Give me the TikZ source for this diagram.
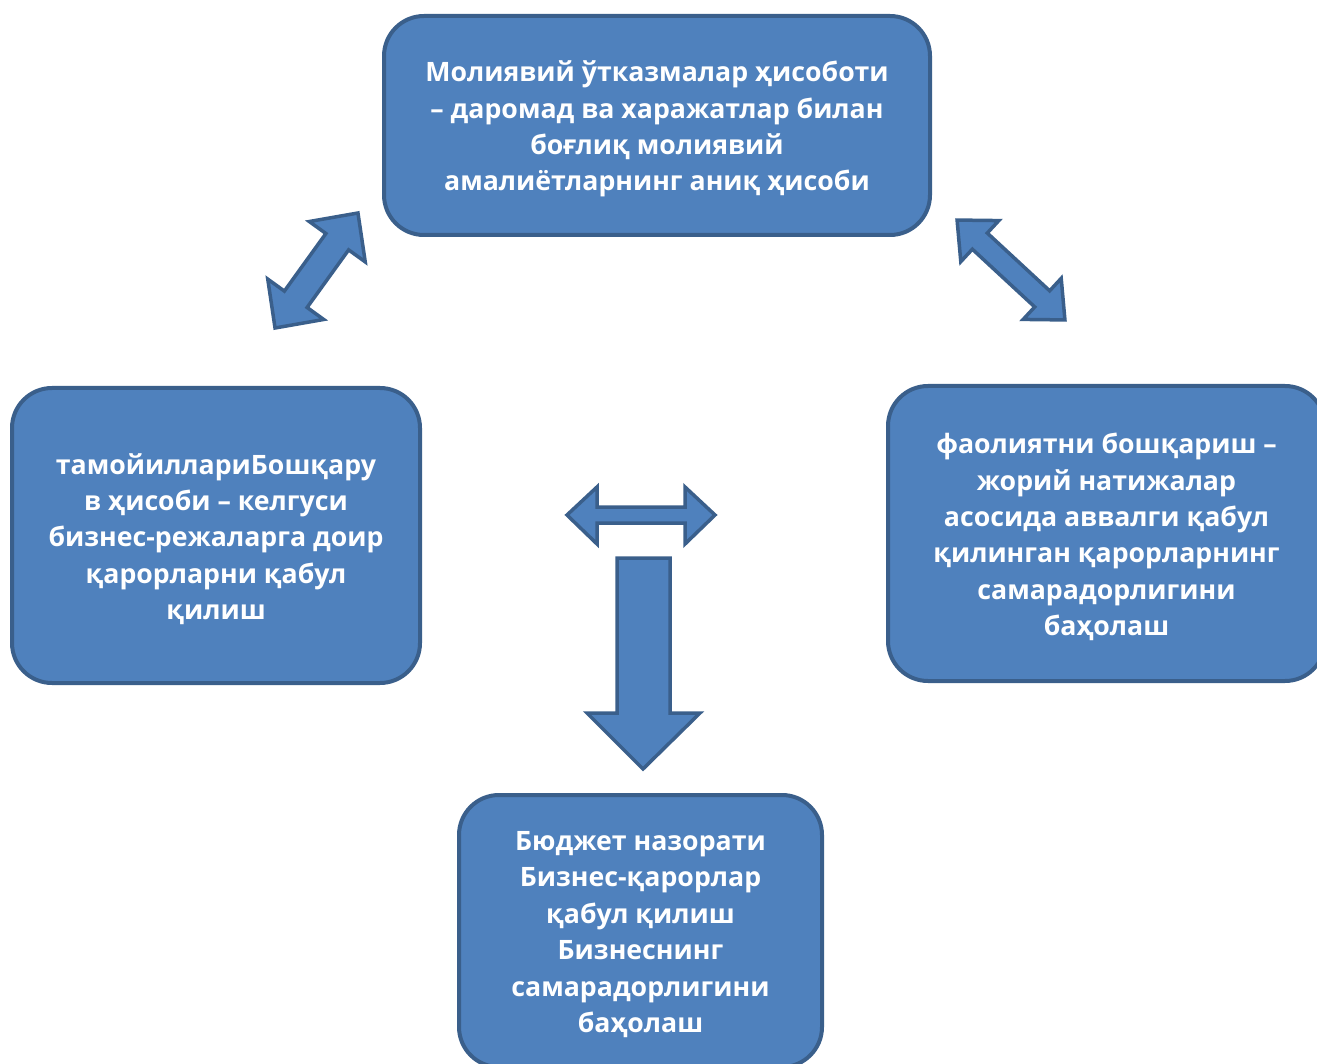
\documentclass[tikz,border=0pt]{standalone}
\usepackage{fontspec}
\setmainfont{Open Sans}
\definecolor{boxfill}{HTML}{4F81BD}
\definecolor{boxline}{HTML}{3A5F8B}
\begin{document}
\begin{tikzpicture}[x=1pt,y=-1pt,
  box/.style={draw=boxline,fill=boxfill,line width=4pt,rounded corners=40pt,inner sep=0pt},
  boxtext/.style={text=white,align=center,inner sep=0pt,yshift=-3.5pt,
    font=\bfseries\fontsize{26.7}{36.4}\selectfont},
  blockarrow/.style={draw=boxline,fill=boxfill,line width=3.5pt,line join=miter}]
\useasboundingbox (0,0) rectangle (1317,1064);
% boxes
\node[box,minimum width=546pt,minimum height=219pt] (top) at (657,125.5) {};
\node[boxtext] (topt) at (top.center)
  {Молиявий ўтказмалар ҳисоботи\\– даромад ва харажатлар билан\\боғлиқ молиявий\\амалиётларнинг аниқ ҳисоби};
\node[box,minimum width=408pt,minimum height=295pt] (left) at (216,535.5) {};
\node[boxtext] (leftt) at (left.center)
  {тамойиллариБошқару\\в ҳисоби – келгуси\\бизнес-режаларга доир\\қарорларни қабул\\қилиш};
\node[box,minimum width=437pt,minimum height=295pt] (right) at (1106.5,533.5) {};
\node[boxtext] (rightt) at (right.center)
  {фаолиятни бошқариш –\\жорий натижалар\\асосида аввалги қабул\\қилинган қарорларнинг\\самарадорлигини\\баҳолаш};
\node[box,minimum width=363pt,minimum height=272pt] (bottom) at (640.5,931) {};
\node[boxtext] (bottomt) at (bottom.center)
  {Бюджет назорати\\Бизнес-қарорлар\\қабул қилиш\\Бизнеснинг\\самарадорлигини\\баҳолаш};
% diagonal double arrow (left)
\draw[blockarrow,shift={(316.5,270.5)},rotate=54.2]
  (-70.9,0) -- (-35.5,-34.5) -- (-35.5,-14) -- (35.5,-14) -- (35.5,-34.5) -- (70.9,0)
  -- (35.5,34.5) -- (35.5,14) -- (-35.5,14) -- (-35.5,34.5) -- cycle;
% diagonal double arrow (right)
\draw[blockarrow,shift={(1011,270)},rotate=-42.8]
  (-73.5,0) -- (-42.5,-28) -- (-42.5,-11) -- (42.5,-11) -- (42.5,-28) -- (73.5,0)
  -- (42.5,28) -- (42.5,11) -- (-42.5,11) -- (-42.5,28) -- cycle;
% horizontal double arrow
\draw[blockarrow]
  (567,515) -- (597,487) -- (597,507) -- (685,507) -- (685,487) -- (715,515)
  -- (685,544) -- (685,523) -- (597,523) -- (597,544) -- cycle;
% down arrow
\draw[blockarrow]
  (617,558) -- (670,558) -- (670,713) -- (700,713) -- (643,769) -- (587,713) -- (617,713) -- cycle;
\end{tikzpicture}
\end{document}
